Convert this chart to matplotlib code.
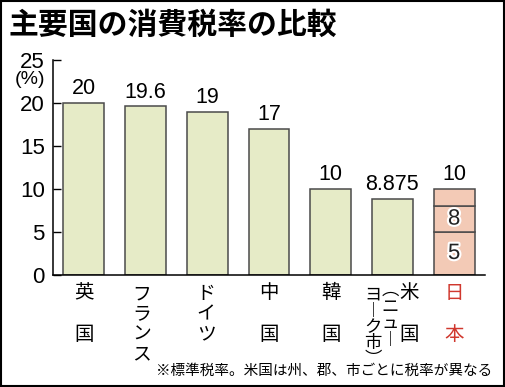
import matplotlib.pyplot as plt
import matplotlib.patheffects as pe
from matplotlib.patches import Rectangle

# データ
countries = ['英国', 'フランス', 'ドイツ', '中国', '韓国', '米国', '日本']
rates = [20, 19.6, 19, 17, 10, 8.875, 10]
rate_labels = ['20', '19.6', '19', '17', '10', '8.875', '10']
japan_steps = [5, 8, 10]          # 日本の税率の推移 (5% -> 8% -> 10%)
japan_step_labels = ['5', '8']
yticks = [0, 5, 10, 15, 20, 25]

W, H = 505, 387
jp = ['Noto Sans CJK JP', 'DejaVu Sans']
num = ['Liberation Sans Narrow', 'Liberation Sans', 'DejaVu Sans']
green = '#e6ebc7'
pink = '#f3cab6'
edge = '#4a4a4a'
red = '#d0382e'

fig = plt.figure(figsize=(W / 100, H / 100), dpi=100)
ax = fig.add_axes([53 / W, 1 - 275 / H, 432 / W, 215 / H])

x = list(range(len(countries)))
ax.bar(x[:-1], rates[:-1], width=0.66, color=green, edgecolor=edge, linewidth=1.1)

# 日本は段階ごとに積み上げる
bottom = 0
for top in japan_steps:
    ax.bar(x[-1], top - bottom, bottom=bottom, width=0.66, color=pink,
           edgecolor=edge, linewidth=1.1)
    bottom = top
prev = 0
for top, lab in zip(japan_steps[:2], japan_step_labels):
    ax.text(x[-1], (prev + top) / 2, lab, ha='center', va='center', fontsize=16,
            family=num, color='#222222',
            path_effects=[pe.withStroke(linewidth=3, foreground='white')])
    prev = top

for xi, v, lab in zip(x, rates, rate_labels):
    ax.text(xi, v + 0.45, lab, ha='center', va='bottom', fontsize=15.5, family=num)

ax.set_xlim(-0.5, 6.5)
ax.set_ylim(0, 25)
ax.set_yticks(yticks)
ax.set_yticklabels([str(t) for t in yticks], family=num, fontsize=16)
ax.tick_params(axis='y', direction='in', length=6, width=1, pad=6)
ax.set_xticks([])
for s in ['top', 'right']:
    ax.spines[s].set_visible(False)
ax.spines['left'].set_linewidth(1.1)
ax.spines['bottom'].set_linewidth(1.1)

fig.text(30 / W, 1 - 80 / H, '(%)', ha='center', va='center', fontsize=14, family=num)

# 縦書きの国名
tr = ax.get_xaxis_transform()
def ay(py):
    return -(py - 275) / 215

def two_char(xi, name, color='black', dx=0.0):
    ax.text(xi + dx, ay(293), name[0], transform=tr, ha='center', va='center',
            fontsize=14, family=jp, color=color)
    ax.text(xi + dx, ay(335), name[1], transform=tr, ha='center', va='center',
            fontsize=14, family=jp, color=color)

def column(xi, chars, ytop, size=13.5, ls=0.95, color='black'):
    ax.text(xi, ay(ytop), '\n'.join(chars), transform=tr, ha='center', va='top',
            fontsize=size, family=jp, color=color, linespacing=ls)

two_char(0, countries[0])
column(1 - 0.07, list(countries[1]), 283)
column(2 - 0.02, list(countries[2]), 283)
two_char(3, countries[3])
two_char(4, countries[4])
two_char(5, countries[5], dx=0.27)
column(5 - 0.03, ['\ufe35', 'ニ', 'ュ', '\ufe31'], 281, size=12.5, ls=0.9)
column(5 - 0.31, ['ヨ', '\ufe31', 'ク', '市', '\ufe36'], 286, size=12.5, ls=0.85)
two_char(6, countries[6], color=red)

fig.text(492 / W, 1 - 371 / H, '※標準税率。米国は州、郡、市ごとに税率が異なる',
         ha='right', va='center', fontsize=10.5, family=jp)

fig.text(8 / W, 1 - 25 / H, '主要国の消費税率の比較', ha='left', va='center',
         fontsize=21.5, fontweight='bold', family=jp)

fig.patches.append(Rectangle((0.002, 0.003), 0.996, 0.994, transform=fig.transFigure,
                             fill=False, edgecolor='black', linewidth=1.5))

fig.savefig('out.png', dpi=100)
